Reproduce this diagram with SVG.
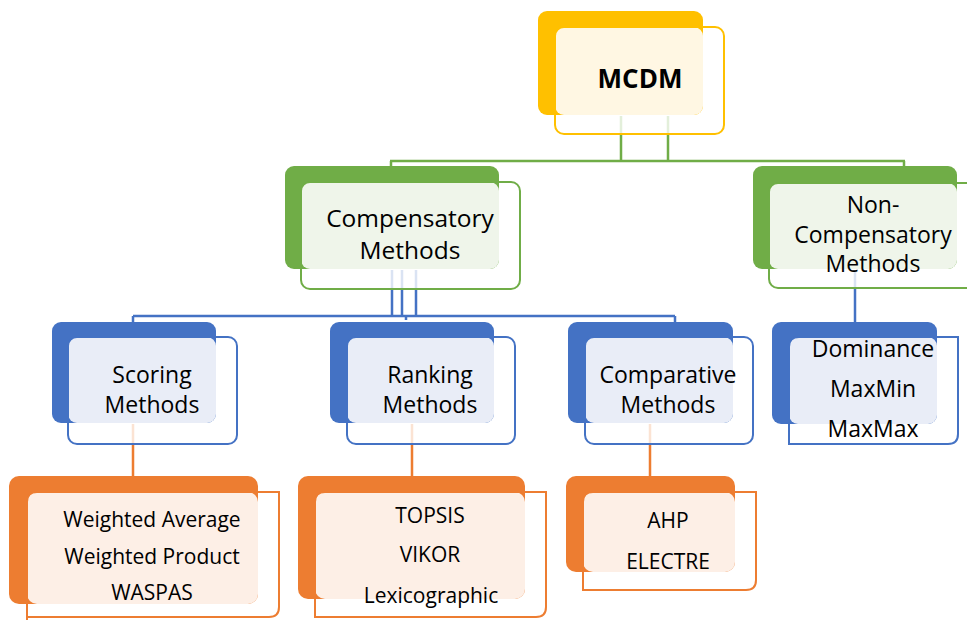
<svg xmlns="http://www.w3.org/2000/svg" width="967" height="620" viewBox="0 0 967 620">
  <style>
    .t { font-family: "Open Sans", "Liberation Sans", sans-serif; fill: #000; text-anchor: middle; }
    .big { font-size: 24.5px; }
    .mid { font-size: 23px; }
    .small { font-size: 21px; }
    .bold { font-weight: bold; font-size: 26px; }
    .out { fill: none; stroke-width: 2; }
    .yl { fill: #FFC000; }  .yo { stroke: #FFC000; } .yf { fill: #FFF7E3; }
    .gr { fill: #70AD47; }  .go { stroke: #70AD47; } .gf { fill: #EFF5EA; }
    .bl { fill: #4472C4; }  .bo { stroke: #4472C4; } .bf { fill: #E9EDF7; }
    .or { fill: #ED7D31; }  .oo { stroke: #ED7D31; } .of { fill: #FDEFE6; }
    .ln { fill: none; stroke-width: 2.5; }
  </style>
  <rect width="967" height="620" fill="#fff"/>

  <!-- connectors -->
  <g id="connectors" class="ln">
    <!-- MCDM to level 1 -->
    <path d="M621,116 V134 M668,116 V134" stroke="#E3EFDA"/>
    <path d="M621,134 V161 M668,134 V161 M390,161 H905 M391,161 V167 M904,161 V167" stroke="#70AD47"/>
    <!-- Compensatory to method families -->
    <path d="M392,270 V289 M402,270 V289 M416,270 V289" stroke="#DAE3F3"/>
    <path d="M392,289 V316 M402,289 V316 M416,289 V316 M133,316 H675 M133,316 V322 M675,316 V322 M406,316 V320" stroke="#4472C4"/>
    <!-- Non-Compensatory to its list -->
    <path d="M855,270 V288" stroke="#DAE3F3"/>
    <path d="M855,288 V322" stroke="#4472C4"/>
    <!-- families to techniques -->
    <path d="M133,424 V444 M412,424 V444 M650,424 V444" stroke="#FBE3D3"/>
    <path d="M133,444 V476 M412,444 V476 M650,444 V476" stroke="#ED7D31"/>
  </g>

  <!-- root -->
  <g id="mcdm">
    <rect class="yl" x="538" y="11" width="165" height="104" rx="9"/>
    <rect class="yf" x="555" y="27" width="148" height="88" rx="9"/>
    <rect class="out yo" x="555" y="27" width="169" height="107" rx="9"/>
    <text class="t bold" x="640" y="88">MCDM</text>
  </g>

  <g id="compensatory">
    <rect class="gr" x="285" y="166" width="214" height="103" rx="9"/>
    <rect class="gf" x="301" y="182" width="198" height="87" rx="9"/>
    <rect class="out go" x="301" y="182" width="219" height="107" rx="9"/>
    <text class="t big" x="410" y="227">Compensatory</text>
    <text class="t big" x="410" y="259">Methods</text>
  </g>

  <g id="non-compensatory">
    <rect class="gr" x="753" y="166" width="204" height="103" rx="9"/>
    <rect class="gf" x="769" y="183" width="188" height="86" rx="9"/>
    <rect class="out go" x="769" y="183" width="230" height="105" rx="9"/>
    <text class="t mid" x="873" y="213">Non-</text>
    <text class="t mid" x="873" y="243">Compensatory</text>
    <text class="t mid" x="873" y="272">Methods</text>
  </g>

  <g id="scoring">
    <rect class="bl" x="52" y="322" width="164" height="101" rx="9"/>
    <rect class="bf" x="68" y="337" width="148" height="86" rx="9"/>
    <rect class="out bo" x="68" y="337" width="169" height="107" rx="9"/>
    <text class="t mid" x="152" y="383">Scoring</text>
    <text class="t mid" x="152" y="413">Methods</text>
  </g>

  <g id="ranking">
    <rect class="bl" x="330" y="322" width="164" height="101" rx="9"/>
    <rect class="bf" x="347" y="337" width="147" height="86" rx="9"/>
    <rect class="out bo" x="347" y="337" width="168" height="107" rx="9"/>
    <text class="t mid" x="430" y="383">Ranking</text>
    <text class="t mid" x="430" y="413">Methods</text>
  </g>

  <g id="comparative">
    <rect class="bl" x="568" y="322" width="165" height="101" rx="9"/>
    <rect class="bf" x="585" y="337" width="148" height="86" rx="9"/>
    <rect class="out bo" x="585" y="337" width="168" height="107" rx="9"/>
    <text class="t mid" x="668" y="383">Comparative</text>
    <text class="t mid" x="668" y="413">Methods</text>
  </g>

  <g id="non-compensatory-list">
    <rect class="bl" x="772" y="322" width="165" height="102" rx="9"/>
    <rect class="bf" x="789" y="337" width="148" height="87" rx="9"/>
    <path class="out bo" d="M789,444 V347 Q789,337 799,337 H958 V434 Q958,444 948,444 Z"/>
    <text class="t mid" x="873" y="357">Dominance</text>
    <text class="t mid" x="873" y="397">MaxMin</text>
    <text class="t mid" x="873" y="437">MaxMax</text>
  </g>

  <g id="scoring-list">
    <rect class="or" x="9" y="476" width="249" height="128" rx="10"/>
    <rect class="of" x="27" y="492" width="231" height="112" rx="10"/>
    <path class="out oo" d="M27,622 V502 Q27,492 37,492 H279 V607 Q279,617 269,617 H27"/>
    <text class="t small" x="152" y="527">Weighted Average</text>
    <text class="t small" x="152" y="564">Weighted Product</text>
    <text class="t small" x="152" y="600">WASPAS</text>
  </g>

  <g id="ranking-list">
    <rect class="or" x="298" y="476" width="227" height="123" rx="10"/>
    <rect class="of" x="315" y="492" width="210" height="107" rx="10"/>
    <path class="out oo" d="M315,617 V502 Q315,492 325,492 H546 V607 Q546,617 536,617 Z"/>
    <text class="t small" x="430" y="523">TOPSIS</text>
    <text class="t small" x="430" y="562">VIKOR</text>
    <text class="t small" x="431" y="603">Lexicographic</text>
  </g>

  <g id="comparative-list">
    <rect class="or" x="566" y="476" width="169" height="96" rx="10"/>
    <rect class="of" x="583" y="492" width="152" height="80" rx="10"/>
    <path class="out oo" d="M583,590 V502 Q583,492 593,492 H756 V580 Q756,590 746,590 Z"/>
    <text class="t small" x="668" y="528">AHP</text>
    <text class="t small" x="668" y="569">ELECTRE</text>
  </g>
</svg>
